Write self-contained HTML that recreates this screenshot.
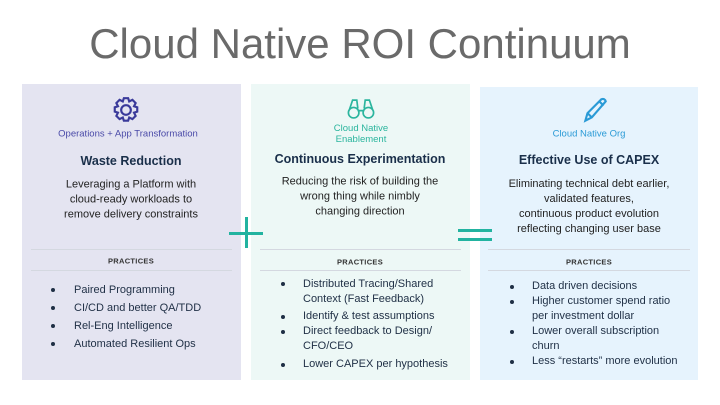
<!DOCTYPE html>
<html><head><meta charset="utf-8"><style>
body{margin:0;width:720px;height:405px;background:#fff;position:relative;overflow:hidden;font-family:"Liberation Sans",sans-serif;color:#1f2f45}
.a{position:absolute}
.p{position:absolute}
.c{position:absolute;text-align:center;white-space:nowrap;transform:translate(-50%,-50%)}
.l{position:absolute;white-space:nowrap;transform:translateY(-50%);font-size:11px;color:#1f2f45}
.d{position:absolute;width:4px;height:4px;border-radius:50%;background:#1f2f45}
.h{font-weight:bold;font-size:12.5px;color:#1a2f4a}
.t{font-size:11px;color:#222;line-height:15px}
.pr{font-weight:bold;font-size:7.5px;color:#333;letter-spacing:.3px}
.hr{position:absolute;height:1px;background:#d4d8e0}
</style></head><body>
<div class="c" style="left:360px;top:44px;font-size:42px;color:#6a6a6a;font-weight:300">Cloud Native ROI Continuum</div>

<div class="p" style="left:22px;top:84px;width:219px;height:296px;background:#e4e4f1"></div>
<div class="p" style="left:251px;top:84px;width:219px;height:296px;background:#edf8f6"></div>
<div class="p" style="left:480px;top:87px;width:218px;height:293px;background:#e6f3fd"></div>

<div class="a" style="left:229px;top:232px;width:34px;height:3px;background:#22b3a0"></div>
<div class="a" style="left:245px;top:217px;width:3px;height:31px;background:#22b3a0"></div>
<div class="a" style="left:458px;top:229px;width:34px;height:3px;background:#22b3a0"></div>
<div class="a" style="left:458px;top:238px;width:34px;height:3px;background:#22b3a0"></div>

<svg class="a" style="left:111px;top:95px" width="30" height="30" viewBox="0 0 28 28"><g fill="none" stroke="#3a3a9a" stroke-width="2"><circle cx="14" cy="14" r="4.5"/><path d="M12 3h4l1 3 3 -1.5 3 3-1.5 3 3 1v4l-3 1 1.5 3-3 3-3-1.5-1 3h-4l-1-3-3 1.5-3-3 1.5-3-3-1v-4l3-1-1.5-3 3-3 3 1.5z"/></g></svg>
<svg class="a" style="left:346px;top:98px" width="30" height="21" viewBox="0 0 28 20"><g fill="none" stroke="#2bb59e" stroke-width="1.6"><circle cx="7" cy="14" r="5"/><circle cx="21" cy="14" r="5"/><path d="M3 11 L6 2 H10 L11 10 M25 11 L22 2 H18 L17 10 M11 12 H17"/></g></svg>
<svg class="a" style="left:580px;top:96px" width="30" height="30" viewBox="0 0 28 28"><g fill="none" stroke="#2a9ad6" stroke-width="2"><path d="M5 23 L7 16 L20 3 Q23 2 24 5 L11 20 Z M7 16 L11 20 M18 5 L22 9"/></g></svg>

<div class="c" style="left:128px;top:134px;font-size:9.5px;color:#4a4aa8">Operations + App Transformation</div>
<div class="c h" style="left:131px;top:161px">Waste Reduction</div>
<div class="c t" style="left:131px;top:200px">Leveraging a Platform with<br>cloud-ready workloads to<br>remove delivery constraints</div>
<div class="hr" style="left:31px;top:249px;width:201px"></div>
<div class="c pr" style="left:131px;top:261px">PRACTICES</div>
<div class="hr" style="left:31px;top:270px;width:201px"></div>
<div class="d" style="left:51px;top:288px"></div><div class="l" style="left:74px;top:290px">Paired Programming</div>
<div class="d" style="left:51px;top:306px"></div><div class="l" style="left:74px;top:308px">CI/CD and better QA/TDD</div>
<div class="d" style="left:51px;top:324px"></div><div class="l" style="left:74px;top:326px">Rel-Eng Intelligence</div>
<div class="d" style="left:51px;top:342px"></div><div class="l" style="left:74px;top:344px">Automated Resilient Ops</div>

<div class="c" style="left:361px;top:134px;font-size:9.5px;color:#2bb59e;line-height:11px">Cloud Native<br>Enablement</div>
<div class="c h" style="left:360px;top:159px">Continuous Experimentation</div>
<div class="c t" style="left:360px;top:197px">Reducing the risk of building the<br>wrong thing while nimbly<br>changing direction</div>
<div class="hr" style="left:260px;top:249px;width:201px"></div>
<div class="c pr" style="left:360px;top:262px">PRACTICES</div>
<div class="hr" style="left:260px;top:270px;width:201px"></div>
<div class="d" style="left:281px;top:282px"></div><div class="l" style="left:303px;top:284px">Distributed Tracing/Shared</div>
<div class="l" style="left:303px;top:299px">Context (Fast Feedback)</div>
<div class="d" style="left:281px;top:315px"></div><div class="l" style="left:303px;top:316px">Identify &amp; test assumptions</div>
<div class="d" style="left:281px;top:330px"></div><div class="l" style="left:303px;top:331px">Direct feedback to Design/</div>
<div class="l" style="left:303px;top:346px">CFO/CEO</div>
<div class="d" style="left:281px;top:363px"></div><div class="l" style="left:303px;top:364px">Lower CAPEX per hypothesis</div>

<div class="c" style="left:589px;top:134px;font-size:9.5px;color:#2a9ad6">Cloud Native Org</div>
<div class="c h" style="left:589px;top:160px">Effective Use of CAPEX</div>
<div class="c t" style="left:589px;top:207px">Eliminating technical debt earlier,<br>validated features,<br>continuous product evolution<br>reflecting changing user base</div>
<div class="hr" style="left:488px;top:249px;width:202px"></div>
<div class="c pr" style="left:589px;top:262px">PRACTICES</div>
<div class="hr" style="left:488px;top:270px;width:202px"></div>
<div class="d" style="left:510px;top:285px"></div><div class="l" style="left:532px;top:286px">Data driven decisions</div>
<div class="d" style="left:510px;top:300px"></div><div class="l" style="left:532px;top:301px">Higher customer spend ratio</div>
<div class="l" style="left:532px;top:316px">per investment dollar</div>
<div class="d" style="left:510px;top:330px"></div><div class="l" style="left:532px;top:331px">Lower overall subscription</div>
<div class="l" style="left:532px;top:346px">churn</div>
<div class="d" style="left:510px;top:360px"></div><div class="l" style="left:532px;top:361px">Less “restarts” more evolution</div>
</body></html>
